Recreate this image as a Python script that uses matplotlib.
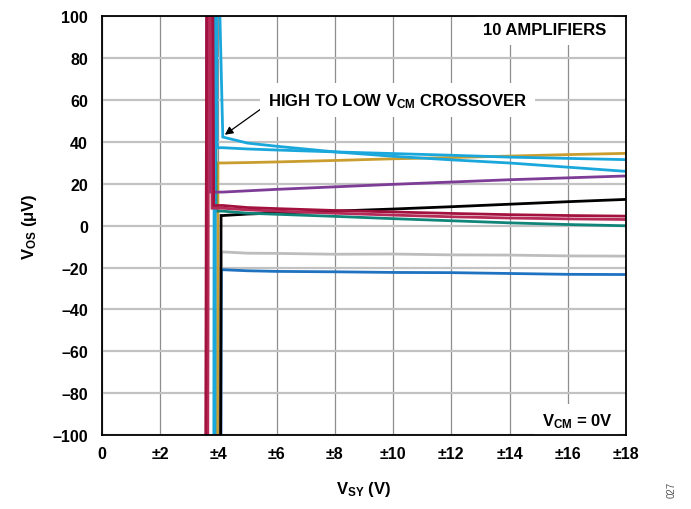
import matplotlib
matplotlib.use("Agg")
import matplotlib.pyplot as plt

plt.rcParams["font.family"] = ["Liberation Sans", "DejaVu Sans"]
plt.rcParams["font.weight"] = "bold"
plt.rcParams["mathtext.fontset"] = "custom"
plt.rcParams["mathtext.rm"] = "Liberation Sans:bold"
plt.rcParams["mathtext.it"] = "Liberation Sans:bold"
plt.rcParams["mathtext.bf"] = "Liberation Sans:bold"

# supply sweep (±V) once the amplifiers are running
vsy_sweep = [4.15, 5, 6, 8, 10, 12, 14, 16, 18]

# offset voltage (uV) per amplifier along the sweep
vos_cyan_a = [42.4, 39.5, 38.0, 35.3, 33.2, 31.5, 30.0, 28.0, 26.0]
vos_cyan_b = [37.3, 36.7, 36.2, 35.3, 34.5, 33.7, 32.8, 32.2, 31.6]
vos_gold = [30.0, 30.2, 30.5, 31.2, 32.0, 32.6, 33.3, 34.0, 34.6]
vos_purple = [16.1, 16.7, 17.4, 18.6, 19.8, 20.9, 22.0, 22.9, 23.8]
vos_black = [4.9, 5.6, 6.1, 7.0, 8.0, 9.1, 10.3, 11.5, 12.6]
vos_crimson = [9.7, 8.7, 8.2, 7.3, 6.6, 5.9, 5.3, 4.9, 4.6]
vos_rose = [8.4, 7.6, 7.0, 6.0, 5.1, 4.3, 3.7, 3.3, 3.0]
vos_teal = [7.0, 6.0, 5.5, 4.5, 3.4, 2.4, 1.4, 0.6, 0.0]
vos_gray = [-12.5, -13.1, -13.2, -13.6, -13.5, -13.9, -14.0, -14.4, -14.5]
vos_blue = [-21.0, -21.5, -21.8, -22.0, -22.3, -22.4, -22.8, -23.2, -23.3]

# start-up region below ~±4 V where the output is out of range
start_x = {
    "cyan_a": [3.88, 3.90, 4.00],
    "cyan_b": [3.84, 3.86, 3.93, 3.95],
    "gold": [3.96, 3.98],
    "purple": [3.58, 3.60, 3.68, 3.72],
    "black": [3.86, 3.88, 4.07, 4.09],
    "crimson": [3.56, 3.60, 3.80, 3.84],
    "rose": [3.63, 3.67, 3.74, 3.78],
    "teal": [3.86, 3.88, 3.90, 3.92],
    "gray": [4.08, 4.10],
    "blue": [4.08, 4.10],
}
start_y = {
    "cyan_a": [-130, 130, 130],
    "cyan_b": [-130, 130, 130, 37.3],
    "gold": [-130, 30.0],
    "purple": [-130, 130, 130, 16.1],
    "black": [130, -130, -130, 4.9],
    "crimson": [-130, 130, 130, 9.7],
    "rose": [-130, 130, 130, 8.4],
    "teal": [-130, 130, 130, 7.0],
    "gray": [-130, -12.5],
    "blue": [-130, -21.0],
}

curves = [
    ("gray", vos_gray, "#bdbdbd"),
    ("blue", vos_blue, "#1e72c0"),
    ("black", vos_black, "#000000"),
    ("gold", vos_gold, "#c99e2e"),
    ("teal", vos_teal, "#12857a"),
    ("cyan_b", vos_cyan_b, "#1aa7dc"),
    ("cyan_a", vos_cyan_a, "#1aa7dc"),
    ("purple", vos_purple, "#7d3c96"),
    ("rose", vos_rose, "#b52a56"),
    ("crimson", vos_crimson, "#a3123f"),
]

fig = plt.figure(figsize=(6.91, 5.10), dpi=100)
ax = fig.add_axes([0.1476, 0.145, 0.9059 - 0.1476, 0.9657 - 0.145])

for name, vos, col in curves:
    ax.plot(start_x[name] + vsy_sweep, start_y[name] + vos, color=col,
            lw=2.0, solid_joinstyle="miter")

ax.set_xlim(0, 18)
ax.set_ylim(-100, 100)

xt = list(range(0, 19, 2))
ax.set_xticks(xt)
ax.set_xticklabels(["0"] + ["\u00b1%d" % v for v in xt[1:]], fontsize=11.5, fontweight="bold")
yt = list(range(-100, 101, 20))
ax.set_yticks(yt)
ax.set_yticklabels([("\u2013%d" % -v) if v < 0 else str(v) for v in yt], fontsize=11.5, fontweight="bold")
ax.tick_params(axis="both", length=0)
ax.tick_params(axis="y", pad=10)
ax.tick_params(axis="x", pad=8)

ax.xaxis.grid(True, color="#8e8e8e", lw=0.9)
ax.yaxis.grid(True, color="#c2c2c2", lw=1.6)
ax.set_axisbelow(True)
for sp in ax.spines.values():
    sp.set_linewidth(1.3)
    sp.set_color("black")
    sp.set_zorder(10)

ax.set_xlabel("V$_{\\rm SY}$ (V)", fontsize=12, fontweight="bold", labelpad=13)
ax.set_ylabel("V$_{\\rm OS}$ (\u03bcV)", fontsize=12, fontweight="bold", labelpad=10)

box = dict(boxstyle="square,pad=0.45", fc="white", ec="none")
ax.annotate("HIGH TO LOW V$_{\\rm CM}$ CROSSOVER", xy=(4.22, 43.5), xytext=(5.7, 60),
            fontsize=12, fontweight="bold", va="center", ha="left", bbox=box,
            arrowprops=dict(arrowstyle="-|>", color="black", lw=0.9,
                            mutation_scale=12, relpos=(0, 0.3), shrinkA=0, shrinkB=0),
            zorder=5)
ax.text(17.33, 93.6, "10 AMPLIFIERS", fontsize=12, fontweight="bold",
        ha="right", va="center", bbox=box, zorder=5)
ax.text(17.55, -93.0, "V$_{\\rm CM}$ = 0V", fontsize=12, fontweight="bold",
        ha="right", va="center", bbox=box, zorder=5)

fig.text(0.972, 0.04, "027", rotation=90, fontsize=7, fontweight="normal",
         color="#555555", ha="center", va="center")

fig.savefig("out.png", dpi=100)
